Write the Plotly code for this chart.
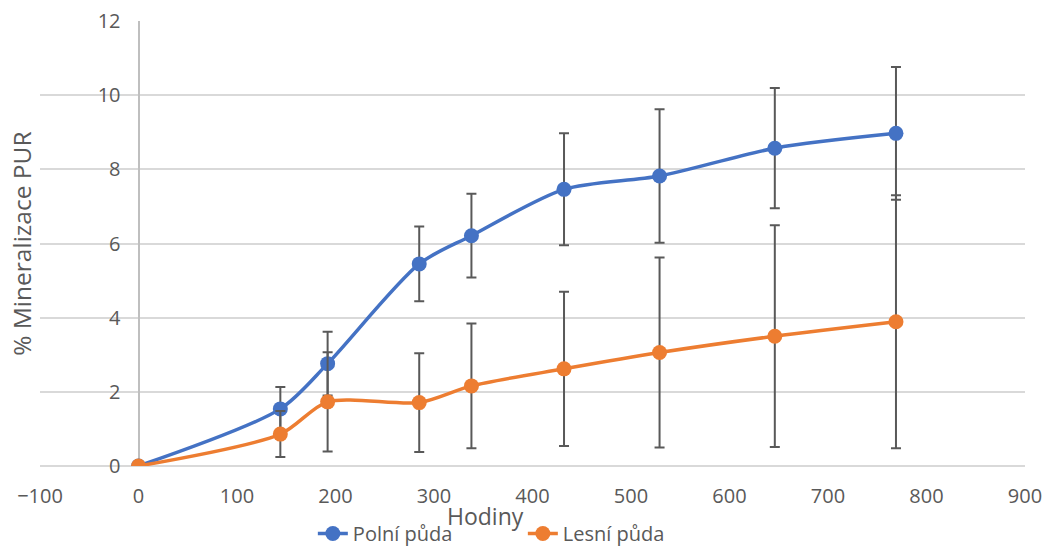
import plotly.graph_objects as go

hours = [0, 144, 192, 285, 338, 432, 529, 646, 769]
polni = [0, 1.54, 2.76, 5.45, 6.21, 7.46, 7.82, 8.57, 8.97]
polni_err = [0, 0.59, 0.86, 1.01, 1.13, 1.51, 1.80, 1.62, 1.79]
lesni = [0, 0.86, 1.73, 1.71, 2.16, 2.62, 3.06, 3.50, 3.89]
lesni_err = [0, 0.62, 1.34, 1.33, 1.68, 2.08, 2.56, 2.99, 3.41]

x_ticks = [-100, 0, 100, 200, 300, 400, 500, 600, 700, 800, 900]
y_ticks = [0, 2, 4, 6, 8, 10, 12]

FONT = "Open Sans"
TXT = "#595959"
ERRC = "#595959"

fig = go.Figure()
for name, ys, es, col in [("Polní půda", polni, polni_err, "#4472C4"),
                          ("Lesní půda", lesni, lesni_err, "#ED7D31")]:
    fig.add_trace(go.Scatter(
        x=hours, y=ys, name=name, mode="lines+markers",
        line=dict(color=col, width=3.5, shape="spline", smoothing=0.8),
        marker=dict(color=col, size=15),
        error_y=dict(type="data", array=es, visible=True, color=ERRC,
                     thickness=2, width=5),
    ))

fig.update_layout(
    width=1052, height=553,
    margin=dict(l=40, r=27, t=21, b=87, autoexpand=False),
    paper_bgcolor="white", plot_bgcolor="white",
    font=dict(family=FONT, size=17, color=TXT),
    showlegend=True,
    legend=dict(orientation="h", x=0.277, xanchor="left",
                yref="container", y=0.0, yanchor="bottom",
                entrywidth=165, entrywidthmode="pixels",
                font=dict(size=20, color=TXT), tracegroupgap=0),
    xaxis=dict(range=[-100, 900], tickvals=x_ticks, showgrid=False,
               zeroline=True, zerolinecolor="#BFBFBF", zerolinewidth=1.5,
               showline=False, ticks="outside", ticklen=12, tickcolor="rgba(0,0,0,0)",
               tickfont=dict(size=20, color=TXT)),
    yaxis=dict(range=[0, 12], tickvals=y_ticks, showgrid=True, gridcolor="#D9D9D9",
               gridwidth=1.5, zeroline=True, zerolinecolor="#D9D9D9", zerolinewidth=1.5,
               anchor="free", position=0.1, showline=False,
               ticks="outside", ticklen=14, tickcolor="rgba(0,0,0,0)",
               tickfont=dict(size=20, color=TXT)),
    annotations=[
        dict(text="Hodiny", x=0.452, y=-0.113, xref="paper", yref="paper",
             xanchor="center", yanchor="middle", showarrow=False,
             font=dict(size=23, color=TXT)),
        dict(text="% Mineralizace PUR", x=-0.019, y=0.5, xref="paper", yref="paper",
             xanchor="center", yanchor="middle", textangle=-90, showarrow=False,
             font=dict(size=24.5, color=TXT)),
    ],
)

fig.write_html("out.html")
